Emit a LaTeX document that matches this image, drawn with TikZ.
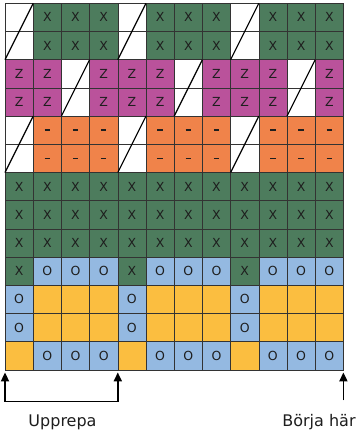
\documentclass[tikz,border=0pt]{standalone}
\usepackage{fontspec}
\setmainfont{DejaVu Sans}
\usetikzlibrary{arrows.meta}
\definecolor{cgreen}{HTML}{4D7C5D}
\definecolor{cpink}{HTML}{BA529B}
\definecolor{corange}{HTML}{F0834A}
\definecolor{cblue}{HTML}{94B9E1}
\definecolor{cyellow}{HTML}{FBBE40}
\definecolor{gridc}{HTML}{333333}
\definecolor{txt}{HTML}{1E1E1E}
\newcommand\celltxtG{X}
\newcommand\celltxtP{Z}
\newcommand\celltxtO{\rule{5.5pt}{1.8pt}}
\newcommand\celltxtB{O}
\newcommand\celltxtY{}
\newcommand\celltxtW{}
\begin{document}
\begin{tikzpicture}[x=1pt,y=-1pt,
  >={Triangle[length=9pt,width=8pt]},
  cell/.style={draw=gridc, line width=0.6pt, minimum width=28.2pt, minimum height=28.2pt,
    inner sep=0pt, outer sep=0pt, anchor=north west, text=txt,
    font=\fontsize{12.5}{12.5}\selectfont},
  cellG/.style={cell, fill=cgreen},
  cellP/.style={cell, fill=cpink},
  cellO/.style={cell, fill=corange},
  cellB/.style={cell, fill=cblue},
  cellY/.style={cell, fill=cyellow},
  cellW/.style={cell, fill=white},
  diag/.style={draw=black, line width=1.2pt},
  bk/.style={draw=black, line width=1.8pt, line join=miter},
  lbl/.style={anchor=base, inner sep=0pt, text=txt, font=\fontsize{16}{16}\selectfont}]
\useasboundingbox[fill=white] (0,0) rectangle (358,437);
\foreach \row [count=\r] in {
  {W,G,G,G,W,G,G,G,W,G,G,G},
  {W,G,G,G,W,G,G,G,W,G,G,G},
  {P,P,W,P,P,P,W,P,P,P,W,P},
  {P,P,W,P,P,P,W,P,P,P,W,P},
  {W,O,O,O,W,O,O,O,W,O,O,O},
  {W,O,O,O,W,O,O,O,W,O,O,O},
  {G,G,G,G,G,G,G,G,G,G,G,G},
  {G,G,G,G,G,G,G,G,G,G,G,G},
  {G,G,G,G,G,G,G,G,G,G,G,G},
  {G,B,B,B,G,B,B,B,G,B,B,B},
  {B,Y,Y,Y,B,Y,Y,Y,B,Y,Y,Y},
  {B,Y,Y,Y,B,Y,Y,Y,B,Y,Y,Y},
  {Y,B,B,B,Y,B,B,B,Y,B,B,B}}{
  \foreach \t [count=\c] in \row {
    \node[cell\t] (c\r-\c) at ({5+(\c-1)*28.2},{3.3+(\r-1)*28.2}) {\csname celltxt\t\endcsname};
  }
}
% diagonals in the white two-row blocks
\foreach \c in {1,5,9} {
  \draw[diag] (c2-\c.south west) -- (c1-\c.north east);
  \draw[diag] (c6-\c.south west) -- (c5-\c.north east);
}
\foreach \c in {3,7,11} {
  \draw[diag] (c4-\c.south west) -- (c3-\c.north east);
}
% arrows
\coordinate (lt) at ([yshift=-2.5pt]c13-1.south west);
\coordinate (lb) at ([yshift=-31.5pt]c13-1.south west);
\coordinate (rt) at ([yshift=-2.5pt]c13-4.south east);
\coordinate (rb) at ([yshift=-31.5pt]c13-4.south east);
\coordinate (st) at ([yshift=-2.5pt]c13-12.south east);
\coordinate (sb) at ([yshift=-30.5pt]c13-12.south east);
\draw[bk, <->] (lt) -- (lb) -- (rb) -- (rt);
\draw[bk, ->] (sb) -- (st);
\node[lbl] (upp) at (62.5,426.7) {Upprepa};
\node[lbl] (borja) at (319,426.7) {Börja här};
\end{tikzpicture}
\end{document}
